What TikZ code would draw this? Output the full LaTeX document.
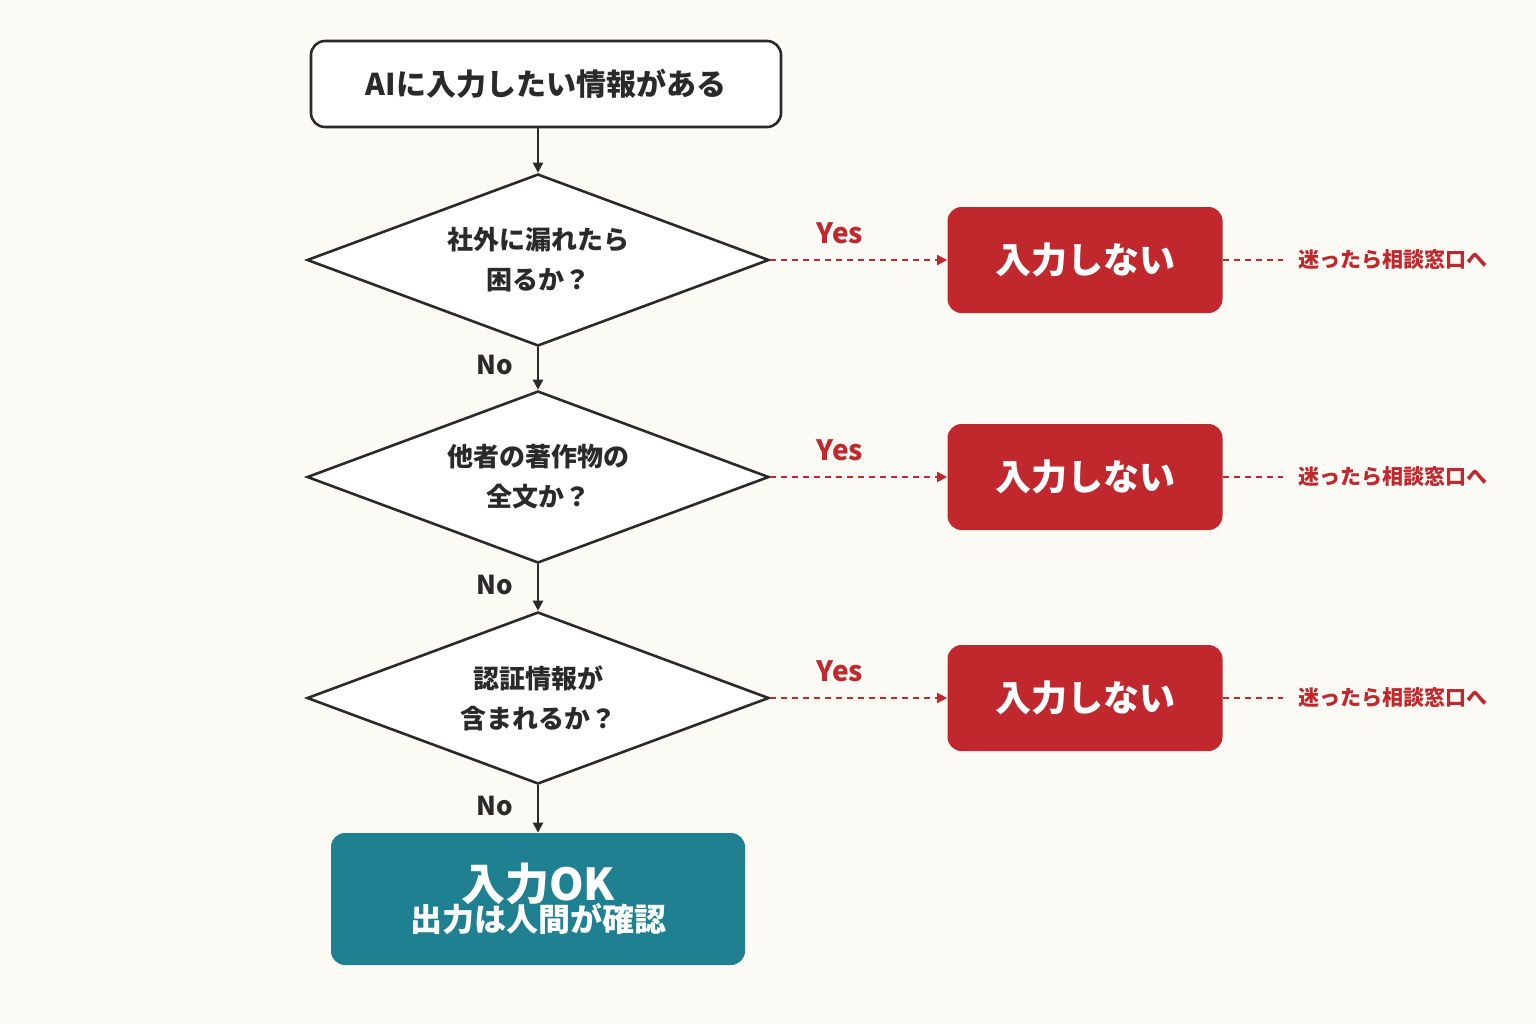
\documentclass[tikz,border=0pt]{standalone}
\usepackage{fontspec}
\setmainfont{Noto Sans CJK JP}
\usetikzlibrary{shapes.geometric,arrows.meta}
\definecolor{bg}{HTML}{FCFAF4}
\definecolor{rd}{HTML}{C0282D}
\definecolor{tl}{HTML}{1E8090}
\definecolor{ink}{HTML}{2A2A2A}
\begin{document}
\begin{tikzpicture}[x=0.5pt,y=-0.5pt,
 dia/.style={diamond,draw=ink,line width=1.3pt,fill=white,minimum width=231pt,minimum height=86pt,aspect=2.69,inner sep=0pt,align=center,font=\fontsize{13}{20}\selectfont\bfseries,text=ink},
 nog/.style={rectangle,rounded corners=7pt,fill=rd,minimum width=137.5pt,minimum height=53pt,text=white,font=\fontsize{18}{20}\selectfont\bfseries},
 yes/.style={text=rd,font=\fontsize{14}{16}\selectfont\bfseries},
 no/.style={text=ink,font=\fontsize{13}{16}\selectfont\bfseries},
 note/.style={text=rd,font=\fontsize{10.5}{12}\selectfont\bfseries,anchor=west,inner sep=0pt},
 arr/.style={-{Triangle[length=5pt,width=5pt]},line width=1.2pt,draw=ink},
 darr/.style={-{Triangle[length=5pt,width=5pt]},line width=1pt,draw=rd,dash pattern=on 3pt off 2.5pt},
 dl/.style={line width=1pt,draw=rd,dash pattern=on 3pt off 2.5pt}]
\fill[bg] (0,0) rectangle (1536,1024);
\useasboundingbox (0,0) rectangle (1536,1024);
\node[draw=ink,line width=1.3pt,rounded corners=7pt,fill=white,minimum width=235pt,minimum height=43pt,font=\fontsize{15}{18}\selectfont\bfseries,text=ink] (s) at (546,84) {AIに入力したい情報がある};
\node[dia] (d1) at (538,260) {社外に漏れたら\\困るか？};
\node[dia] (d2) at (538,477) {他者の著作物の\\全文か？};
\node[dia] (d3) at (538,698) {認証情報が\\含まれるか？};
\node[rectangle,rounded corners=7pt,fill=tl,minimum width=207pt,minimum height=66pt,text=white,align=center] (ok) at (538,899) {{\fontsize{22}{26}\selectfont\bfseries 入力OK}\\[-2pt]{\fontsize{16}{20}\selectfont\bfseries 出力は人間が確認}};
\draw[arr] (s.south -| d1.north) -- (d1.north);
\draw[arr] (d1.south) -- (d2.north);
\draw[arr] (d2.south) -- (d3.north);
\draw[arr] (d3.south) -- (ok.north);
\node[no] (n1) at (495,365) {No};
\node[no] (n2) at (495,585) {No};
\node[no] (n3) at (495,806) {No};
\foreach \i/\y in {1/260,2/477,3/698}{
 \node[nog] (r\i) at (1085,\y) {入力しない};
 \draw[darr] (d\i.east) -- (r\i.west);
 \node[yes] (y\i) at (840,\y-27) {Yes};
 \coordinate (e\i) at (1283,\y);
 \draw[dl] (r\i.east) -- (e\i);
 \node[note] (t\i) at (1298,\y) {迷ったら相談窓口へ};
}
\end{tikzpicture}
\end{document}
